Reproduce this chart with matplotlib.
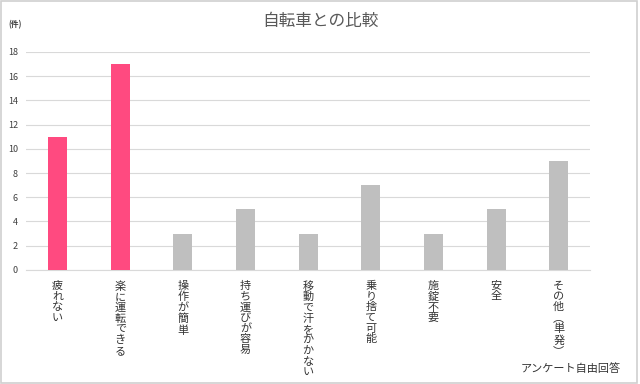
import matplotlib.pyplot as plt
from matplotlib.patches import Rectangle

plt.rcParams['font.family'] = ['Noto Sans CJK JP', 'DejaVu Sans']

# データ
categories = ['疲れない', '楽に運転できる', '操作が簡単', '持ち運びが容易', '移動で汗をかかない',
              '乗り捨て可能', '施錠不要', '安全', 'その他︵単発︶']
counts = [11, 17, 3, 5, 3, 7, 3, 5, 9]
bar_colors = ['#FF4A80', '#FF4A80'] + ['#BFBFBF'] * 7
yticks = [0, 2, 4, 6, 8, 10, 12, 14, 16, 18]

fig = plt.figure(figsize=(6.4, 3.84), dpi=100)
ax = fig.add_axes([0.041, 0.297, 0.881, 0.568])

x = list(range(len(categories)))
ax.bar(x, counts, width=0.3, color=bar_colors, zorder=3)
ax.set_xlim(-0.5, len(categories) - 0.5)
ax.set_ylim(0, 18)
ax.set_yticks(yticks)
ax.set_yticklabels([str(t) for t in yticks], fontsize=6.5, color='#404040')
ax.grid(axis='y', color='#D9D9D9', linewidth=0.8, zorder=0)
ax.tick_params(axis='both', length=0, pad=6)
ax.set_xticks([])
for s in ['top', 'right', 'left']:
    ax.spines[s].set_visible(False)
ax.spines['bottom'].set_color('#D9D9D9')

# 縦書きラベル
for i, lab in enumerate(categories):
    ax.text(i, -0.9, '\n'.join(lab), ha='center', va='top', fontsize=8,
            color='#333333', linespacing=1.08)

fig.text(0.5, 0.943, '自転車との比較', ha='center', va='center', fontsize=12, color='#595959')
fig.text(0.013, 0.935, '(件)', ha='left', va='center', fontsize=5.5, color='#404040', weight='bold')
fig.text(0.97, 0.04, 'アンケート自由回答', ha='right', va='center', fontsize=8, color='#333333')

# 枠線
fig.patches.append(Rectangle((0.002, 0.003), 0.994, 0.994, transform=fig.transFigure,
                             fill=False, edgecolor='#D0D0D0', linewidth=1.2))

fig.savefig('out.png', dpi=100)
